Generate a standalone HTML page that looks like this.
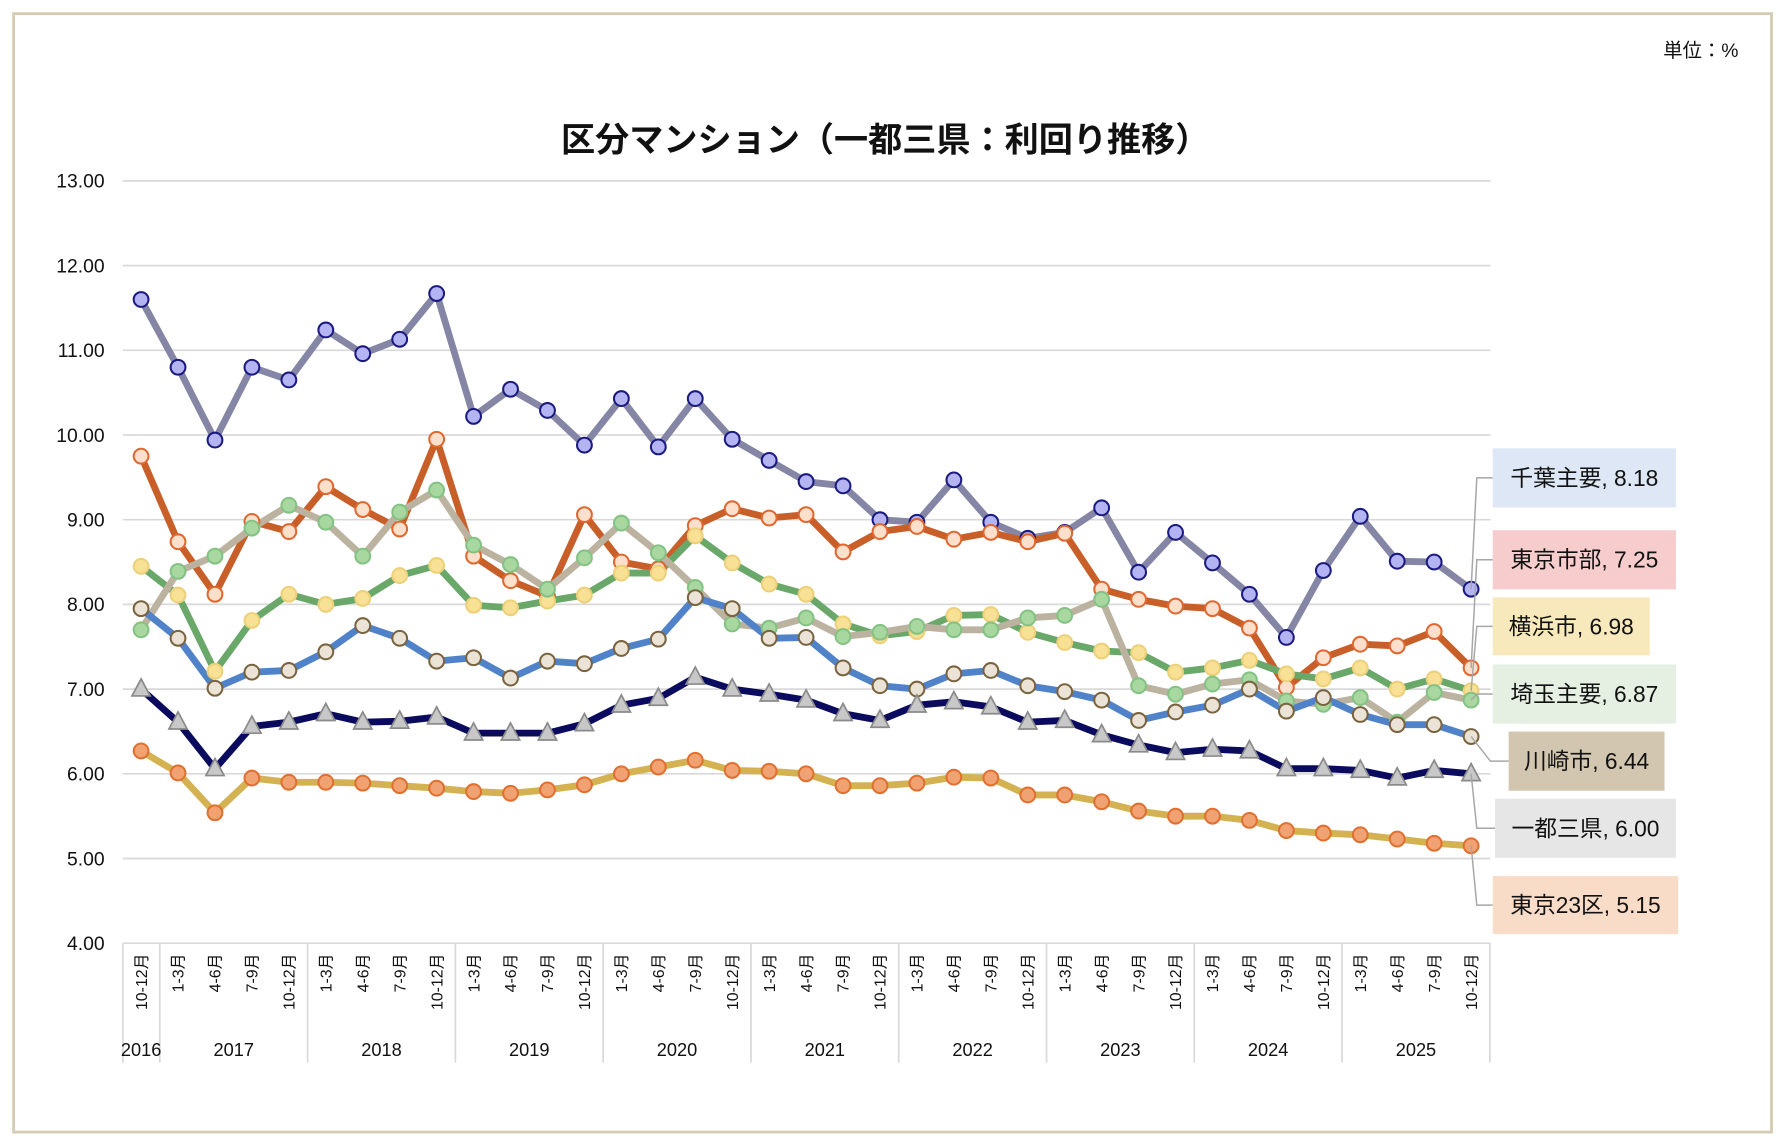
<!DOCTYPE html>
<html><head><meta charset="utf-8"><style>
html,body{margin:0;padding:0;background:#fff;}
svg{display:block;}
text{font-family:"Liberation Sans","Noto Sans CJK JP",sans-serif;}
</style></head><body>
<svg id="c" width="1784" height="1148" viewBox="0 0 1568 1009" preserveAspectRatio="none" xmlns="http://www.w3.org/2000/svg"></svg>
<script>
const S=document.getElementById('c');let h='';
h+='<rect x="12" y="12" width="1545" height="983" fill="#fff" stroke="#d6ccb4" stroke-width="2.5"/>';
h+='<text x="1528" y="50" font-size="17" text-anchor="end" fill="#111">単位：%</text>';
h+='<text x="778" y="133" font-size="30" font-weight="bold" text-anchor="middle" fill="#111" font-family="\'Noto Sans CJK JP\',sans-serif">区分マンション（一都三県：利回り推移）</text>';
const Y=v=>159+(13-v)*74.444, X=i=>124+32.472*i;
for(let v=4;v<=13;v++){const y=Y(v);
 h+=`<line x1="108" y1="${y}" x2="1310" y2="${y}" stroke="#d9d9d9" stroke-width="1.5"/>`;
 h+=`<text x="92" y="${y+6}" font-size="17" text-anchor="end" fill="#111">${v.toFixed(2)}</text>`;}
const yb=[0,1,5,9,13,17,21,25,29,33,37];
yb.forEach(k=>{const x=108+32.472*k;h+=`<line x1="${x}" y1="829" x2="${x}" y2="934" stroke="#d9d9d9" stroke-width="1.5"/>`;});
const mn=['1-3月','4-6月','7-9月','10-12月'];
for(let i=0;i<37;i++){const m=i==0?'10-12月':mn[(i-1)%4];
 h+=`<text transform="translate(${X(i)+5},838) rotate(-90)" font-size="14" text-anchor="end" fill="#111">${m}</text>`;}
h+=`<text x="124" y="928" font-size="16" text-anchor="middle" fill="#111">2016</text>`;
for(let k=0;k<9;k++){const x=(108+32.472*(1+4*k)+108+32.472*(5+4*k))/2;
 h+=`<text x="${x}" y="928" font-size="16" text-anchor="middle" fill="#111">${2017+k}</text>`;}
const D=[
 {l:'#8585a5',f:'#b4b4f2',s:'#1a1a80',d:[11.60,10.80,9.94,10.80,10.65,11.24,10.96,11.13,11.67,10.22,10.54,10.29,9.88,10.43,9.86,10.43,9.95,9.70,9.45,9.40,9.00,8.97,9.47,8.97,8.78,8.85,9.14,8.38,8.85,8.49,8.12,7.61,8.40,9.04,8.51,8.50,8.18]},
 {l:'#c85e28',f:'#fde0cc',s:'#e06830',d:[9.75,8.74,8.12,8.98,8.86,9.39,9.12,8.89,9.95,8.57,8.28,8.10,9.06,8.50,8.42,8.93,9.13,9.02,9.06,8.62,8.86,8.92,8.77,8.85,8.74,8.84,8.18,8.06,7.98,7.95,7.72,7.02,7.37,7.53,7.51,7.68,7.25]},
 {l:'#6aa86a',f:'#f8e094',s:'#ecd07a',d:[8.45,8.11,7.21,7.81,8.12,8.00,8.07,8.34,8.46,7.99,7.96,8.04,8.11,8.37,8.37,8.81,8.49,8.24,8.12,7.77,7.63,7.68,7.87,7.88,7.67,7.55,7.45,7.43,7.20,7.25,7.34,7.18,7.12,7.25,7.00,7.12,6.98]},
 {l:'#bcb2a0',f:'#a8d8a0',s:'#84c284',d:[7.70,8.39,8.57,8.90,9.17,8.97,8.57,9.09,9.35,8.70,8.47,8.18,8.55,8.96,8.61,8.20,7.77,7.72,7.84,7.62,7.67,7.74,7.70,7.70,7.84,7.87,8.06,7.04,6.94,7.06,7.11,6.86,6.82,6.90,6.61,6.96,6.87]},
 {l:'#4f82c8',f:'#ebe4d6',s:'#7a6440',d:[7.95,7.60,7.01,7.20,7.22,7.44,7.75,7.60,7.33,7.37,7.13,7.33,7.30,7.48,7.59,8.08,7.95,7.60,7.61,7.25,7.04,7.00,7.18,7.22,7.04,6.97,6.87,6.63,6.73,6.81,7.00,6.74,6.90,6.70,6.58,6.58,6.44]},
 {l:'#0a0a5e',f:'#c8c8c8',s:'#8a8a8a',t:1,d:[7.00,6.61,6.06,6.56,6.61,6.71,6.61,6.62,6.67,6.48,6.48,6.48,6.59,6.81,6.89,7.14,7.00,6.94,6.87,6.71,6.63,6.81,6.85,6.79,6.61,6.63,6.46,6.34,6.25,6.29,6.27,6.06,6.06,6.04,5.95,6.04,6.00]},
 {l:'#d4b252',f:'#f0a272',s:'#e07030',d:[6.27,6.01,5.54,5.95,5.90,5.90,5.89,5.86,5.83,5.79,5.77,5.81,5.87,6.00,6.08,6.16,6.04,6.03,6.00,5.86,5.86,5.89,5.96,5.95,5.75,5.75,5.67,5.56,5.50,5.50,5.45,5.33,5.30,5.28,5.23,5.18,5.15]}
];
D.forEach(s=>{h+=`<polyline fill="none" stroke="${s.l}" stroke-width="6" stroke-linejoin="round" points="${s.d.map((v,i)=>X(i)+','+Y(v)).join(' ')}"/>`;});
D.forEach(s=>{s.d.forEach((v,i)=>{const x=X(i),y=Y(v);
 if(s.t)h+=`<polygon points="${x},${y-9} ${x-8},${y+6} ${x+8},${y+6}" fill="${s.f}" stroke="${s.s}" stroke-width="1.5"/>`;
 else h+=`<circle cx="${x}" cy="${y}" r="6.5" fill="${s.f}" stroke="${s.s}" stroke-width="1.8"/>`;});});
const L=[['千葉主要, 8.18','#dde7f5',1312,394,161,52,8.18],['東京市部, 7.25','#f6cccc',1312,466,161,52,7.25],['横浜市, 6.98','#f8e9bc',1312,525,138,51,6.98],['埼玉主要, 6.87','#e5f0e3',1312,584,161,52,6.87],['川崎市, 6.44','#d3c6b0',1326,643,137,52,6.44],['一都三県, 6.00','#e6e6e6',1314,702,159,52,6.00],['東京23区, 5.15','#f9dcc8',1312,770,163,51,5.15]];
L.forEach(a=>{const [t,c,x,y,w,hh,v]=a;const my=y+hh/2,py=Y(v);
 const vx=a[0].startsWith('川崎')?1310:1298;
 h+=`<polyline fill="none" stroke="#a6a6a6" stroke-width="1.3" points="1293,${py} ${vx},${my} ${x},${my}"/>`;
 h+=`<rect x="${x}" y="${y}" width="${w}" height="${hh}" fill="${c}"/>`;
 h+=`<text x="${x+w/2}" y="${my+7}" font-size="20" text-anchor="middle" fill="#111">${t}</text>`;});
S.innerHTML=h;
</script>
</body></html>
